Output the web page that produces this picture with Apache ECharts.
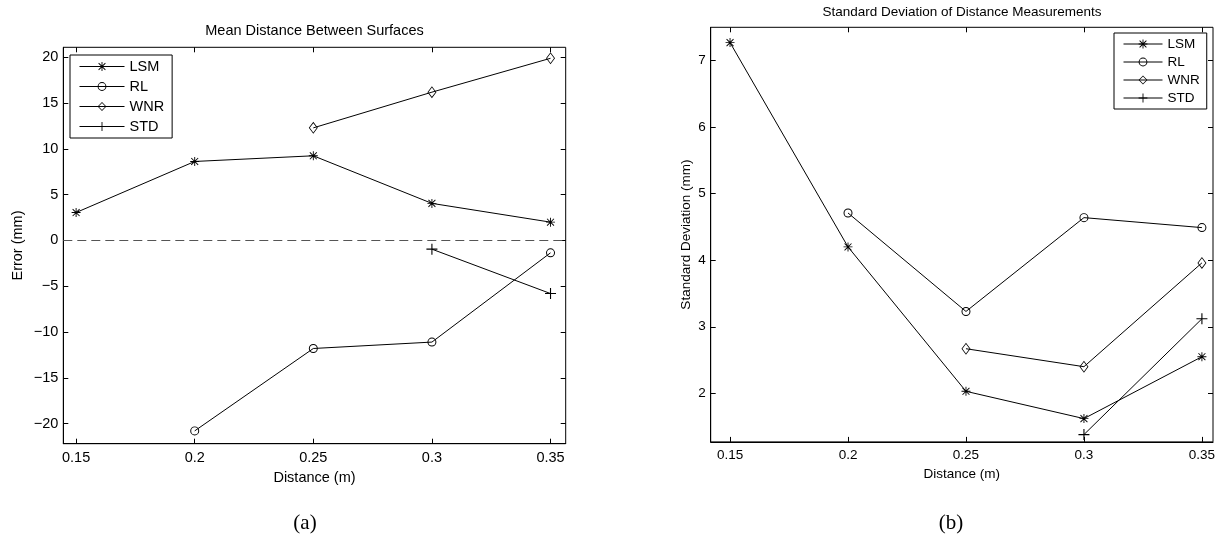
<!DOCTYPE html>
<html><head><meta charset="utf-8">
<script src="https://cdn.jsdelivr.net/npm/echarts@6/dist/echarts.min.js"></script>
<style>html,body{margin:0;padding:0;background:#fff}#c{width:1223px;height:539px}</style>
</head><body><div id="c"></div>
<script>
// ---- data ----
const distances = [0.15, 0.2, 0.25, 0.3, 0.35];
const seriesNames = ['LSM', 'RL', 'WNR', 'STD'];
const meanLSM = [3.05, 8.63, 9.25, 4.05, 2.0];
const meanRL  = [null, -20.8, -11.8, -11.1, -1.35];
const meanWNR = [null, null, 12.3, 16.2, 19.9];
const meanSTD = [null, null, null, -0.95, -5.8];
const sdLSM = [7.27, 4.2, 2.03, 1.62, 2.55];
const sdRL  = [null, 4.71, 3.23, 4.64, 4.49];
const sdWNR = [null, null, 2.67, 2.40, 3.96];
const sdSTD = [null, null, null, 1.38, 3.12];
const xTicks = [0.15, 0.2, 0.25, 0.3, 0.35];
const meanTicks = [-20, -15, -10, -5, 0, 5, 10, 15, 20];
const sdTicks = [2, 3, 4, 5, 6, 7];

// ---- styling ----
const FONT = '"Liberation Sans", Arial, Helvetica, sans-serif';
const ASTERISK = 'path://M45,0H55V100H45Z M0,45H100V55H0Z M15,8L92,85L85,92L8,15Z M85,8L92,15L15,92L8,85Z';
const PLUS = 'path://M45,0H55V100H45Z M0,45H100V55H0Z';
const RING = 'path://M50,0A50,50 0 1,1 50,100A50,50 0 1,1 50,0Z M50,11A39,39 0 1,0 50,89A39,39 0 1,0 50,11Z';
const DIAMOND = 'path://M50,0L100,50L50,100L0,50Z M50,11L11,50L50,89L89,50Z';
const markers = {
  LSM: { symbol: ASTERISK, size: 9 },
  RL:  { symbol: RING, size: 9 },
  WNR: { symbol: DIAMOND, size: [9, 12] },
  STD: { symbol: PLUS, size: 11 }
};
const minusFmt = v => (v < 0 ? '\u2212' + (-v) : String(v));

function makeSeries(name, vals, g) {
  const m = markers[name];
  return {
    type: 'line', name,
    xAxisIndex: g * 2, yAxisIndex: g * 2,
    data: distances.map((x, i) => [x, vals[i]]).filter(d => d[1] != null),
    symbol: m.symbol, symbolSize: m.size,
    lineStyle: { color: '#000', width: 1 },
    itemStyle: { color: '#000', borderWidth: 0 },
    emphasis: { disabled: true },
    z: 3
  };
}

function xAxes(g, min, max, fs, margin, gap) {
  const tick = { show: true, inside: true, length: 5, customValues: xTicks, lineStyle: { color: '#000' } };
  return [
    { type: 'value', gridIndex: g, position: 'bottom', min, max,
      axisLine: { show: true, onZero: false, lineStyle: { color: '#000', width: 1 } },
      axisTick: tick, splitLine: { show: false },
      axisLabel: { customValues: xTicks, formatter: v => String(v), color: '#000', fontFamily: FONT, fontSize: fs, margin },
      name: 'Distance (m)', nameLocation: 'middle', nameGap: gap,
      nameTextStyle: { color: '#000', fontFamily: FONT, fontSize: fs } },
    { type: 'value', gridIndex: g, position: 'top', min, max,
      axisLine: { show: false, onZero: false }, axisTick: tick, axisLabel: { show: false }, splitLine: { show: false } }
  ];
}
function yAxes(g, min, max, ticks, fs, name, gap) {
  const tick = { show: true, inside: true, length: 5, customValues: ticks, lineStyle: { color: '#000' } };
  return [
    { type: 'value', gridIndex: g, position: 'left', min, max,
      axisLine: { show: true, onZero: false, lineStyle: { color: '#000', width: 1 } },
      axisTick: tick, splitLine: { show: false },
      axisLabel: { customValues: ticks, formatter: minusFmt, color: '#000', fontFamily: FONT, fontSize: fs, margin: 5 },
      name, nameLocation: 'middle', nameGap: gap,
      nameTextStyle: { color: '#000', fontFamily: FONT, fontSize: fs } },
    { type: 'value', gridIndex: g, position: 'right', min, max,
      axisLine: { show: false, onZero: false }, axisTick: tick, axisLabel: { show: false }, splitLine: { show: false } }
  ];
}

const meanSeries = [meanLSM, meanRL, meanWNR, meanSTD].map((v, i) => makeSeries(seriesNames[i], v, 0));
const sdSeries = [sdLSM, sdRL, sdWNR, sdSTD].map((v, i) => makeSeries(seriesNames[i], v, 1));
meanSeries[0].markLine = {
  silent: true, symbol: ['none', 'none'], animation: false,
  label: { show: false },
  lineStyle: { type: [9, 5], color: '#555', width: 1 },
  data: [{ yAxis: 0 }]
};

const legendBase = {
  data: seriesNames, orient: 'vertical', selectedMode: false,
  itemHeight: 11, lineStyle: { width: 1, color: '#000' },
  backgroundColor: '#fff', borderColor: '#000', borderWidth: 1, borderRadius: 0
};

const option = {
  animation: false,
  backgroundColor: '#fff',
  title: [
    { text: 'Mean Distance Between Surfaces', left: 314.5, top: 23, padding: 0, textAlign: 'center',
      textStyle: { fontFamily: FONT, fontSize: 14.5, fontWeight: 'normal', color: '#000' } },
    { text: 'Standard Deviation of Distance Measurements', left: 962, top: 5, padding: 0, textAlign: 'center',
      textStyle: { fontFamily: FONT, fontSize: 13.5, fontWeight: 'normal', color: '#000' } }
  ],
  grid: [
    { left: 63.3, top: 47.3, width: 502.4, height: 396.4, show: true, borderColor: '#000', borderWidth: 1, backgroundColor: 'transparent' },
    { left: 710.7, top: 27.3, width: 502.3, height: 414.6, show: true, borderColor: '#000', borderWidth: 1, backgroundColor: 'transparent' }
  ],
  xAxis: [
    ...xAxes(0, 0.1446, 0.3564, 14.5, 7, 26),
    ...xAxes(1, 0.1418, 0.3547, 13.5, 6, 21)
  ],
  yAxis: [
    ...yAxes(0, -22.2, 21.1, meanTicks, 14.5, 'Error (mm)', 38),
    ...yAxes(1, 1.27, 7.5, sdTicks, 13.5, 'Standard Deviation (mm)', 17)
  ],
  legend: [
    Object.assign({}, legendBase, { left: 70, top: 55, padding: [4, 8, 4, 9], itemWidth: 45, itemGap: 5,
      textStyle: { fontFamily: FONT, fontSize: 14.5, color: '#000' } }),
    Object.assign({}, legendBase, { left: 1114, top: 33, padding: [4, 7, 4, 9], itemWidth: 39, itemGap: 4,
      textStyle: { fontFamily: FONT, fontSize: 13.5, color: '#000' } })
  ],
  graphic: [
    { type: 'text', x: 305, y: 523, style: { text: '(a)', textAlign: 'center', textVerticalAlign: 'middle',
      font: '21px "Liberation Serif", "DejaVu Serif", serif', fill: '#000' } },
    { type: 'text', x: 951, y: 523, style: { text: '(b)', textAlign: 'center', textVerticalAlign: 'middle',
      font: '21px "Liberation Serif", "DejaVu Serif", serif', fill: '#000' } }
  ],
  series: [...meanSeries, ...sdSeries]
};

const chart = echarts.init(document.getElementById('c'), null, { renderer: 'canvas' });
chart.setOption(option);
</script>
</body></html>
